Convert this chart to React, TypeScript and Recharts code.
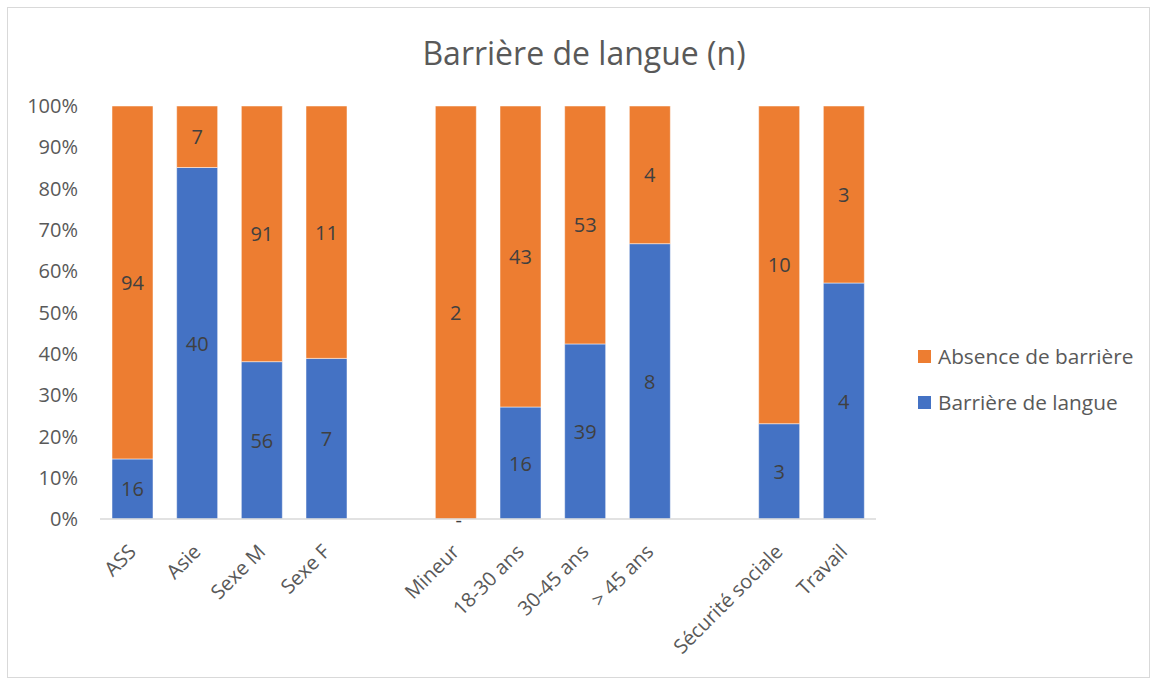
import React from "react";
import { Bar, BarChart, LabelList, XAxis, YAxis } from "recharts";

const categories = ["ASS", "Asie", "Sexe M", "Sexe F", "", "Mineur", "18-30 ans", "30-45 ans", "> 45 ans", " ", "Sécurité sociale", "Travail"];
const barriereValues: (number | null)[] = [16, 40, 56, 7, null, 0, 16, 39, 8, null, 3, 4];
const absenceValues: (number | null)[] = [94, 7, 91, 11, null, 2, 43, 53, 4, null, 10, 3];
const yTicks = [0, 0.1, 0.2, 0.3, 0.4, 0.5, 0.6, 0.7, 0.8, 0.9, 1];

const data = categories.map((name, i) => ({
  name,
  barriere: barriereValues[i],
  absence: absenceValues[i],
}));

const FONT = "'Open Sans', sans-serif";
const BLUE = "#4472C4";
const ORANGE = "#ED7D31";

const XTick = (props: any) => {
  const { x, y, payload, index } = props;
  if (!payload?.value?.trim()) return null;
  const ax = x + 5;
  const ay = y + 26;
  // barre de hauteur nulle : Excel affiche "-" sous l'axe
  const zero = barriereValues[index] === 0;
  return (
    <g>
      {zero && (
        <text x={x + 3} y={y} textAnchor="middle" fontSize={20} fontFamily={FONT} fill="#404040">
          -
        </text>
      )}
      <text
        x={ax}
        y={ay}
        transform={`rotate(-45, ${ax}, ${ay})`}
        textAnchor="end"
        fontSize={20}
        fontFamily={FONT}
        fill="#595959"
      >
        {payload.value}
      </text>
    </g>
  );
};

// étiquette de valeur centrée dans la barre
const ValueLabel = (props: any) => {
  const { x, y, width, height, value } = props;
  if (value == null || value === 0) return null;
  return (
    <text
      x={x + width / 2}
      y={y + height / 2}
      textAnchor="middle"
      dominantBaseline="central"
      fontSize={20}
      fontFamily={FONT}
      fill="#404040"
    >
      {value}
    </text>
  );
};

const legendItems = [
  { label: "Absence de barrière", color: ORANGE },
  { label: "Barrière de langue", color: BLUE },
];

export default function App() {
  return (
    <div
      style={{
        position: "absolute",
        left: 7,
        top: 7,
        width: 1143,
        height: 671,
        boxSizing: "border-box",
        border: "1.5px solid #d9d9d9",
        background: "#fff",
      }}
    >
      <div
        style={{
          position: "absolute",
          left: 0,
          top: 23,
          width: 1152,
          textAlign: "center",
          fontFamily: FONT,
          fontSize: 32,
          color: "#595959",
        }}
      >
        Barrière de langue (n)
      </div>
      <div
        style={{
          position: "absolute",
          left: 910,
          top: 325,
          fontFamily: FONT,
          fontSize: 20.8,
          color: "#595959",
        }}
      >
        {legendItems.map((it) => (
          <div key={it.label} style={{ display: "flex", alignItems: "center", height: 46 }}>
            <span style={{ width: 13, height: 13, background: it.color, marginRight: 7, display: "inline-block" }} />
            {it.label}
          </div>
        ))}
      </div>
      <div style={{ position: "absolute", left: 0, top: 0 }}>
        <BarChart
          width={1140}
          height={668}
          data={data}
          stackOffset="expand"
          barSize={41}
          margin={{ top: 98, right: 272, left: 0, bottom: 0 }}
        >
          <XAxis
            dataKey="name"
            interval={0}
            tick={<XTick />}
            tickLine={false}
            axisLine={{ stroke: "#d9d9d9", strokeWidth: 1.5 }}
            height={157}
          />
          <YAxis
            width={92}
            ticks={yTicks}
            domain={[0, 1]}
            tickFormatter={(v: number) => `${Math.round(v * 100)}%`}
            axisLine={false}
            tickLine={false}
            tickSize={0}
            tickMargin={22}
            tick={{ fontSize: 20, fontFamily: FONT, fill: "#595959" }}
          />
          <Bar dataKey="barriere" stackId="a" fill={BLUE} stroke="#ffffff" strokeWidth={0.5} isAnimationActive={false}>
            <LabelList dataKey="barriere" content={<ValueLabel />} />
          </Bar>
          <Bar dataKey="absence" stackId="a" fill={ORANGE} stroke="#ffffff" strokeWidth={0.5} isAnimationActive={false}>
            <LabelList dataKey="absence" content={<ValueLabel />} />
          </Bar>
        </BarChart>
      </div>
    </div>
  );
}
